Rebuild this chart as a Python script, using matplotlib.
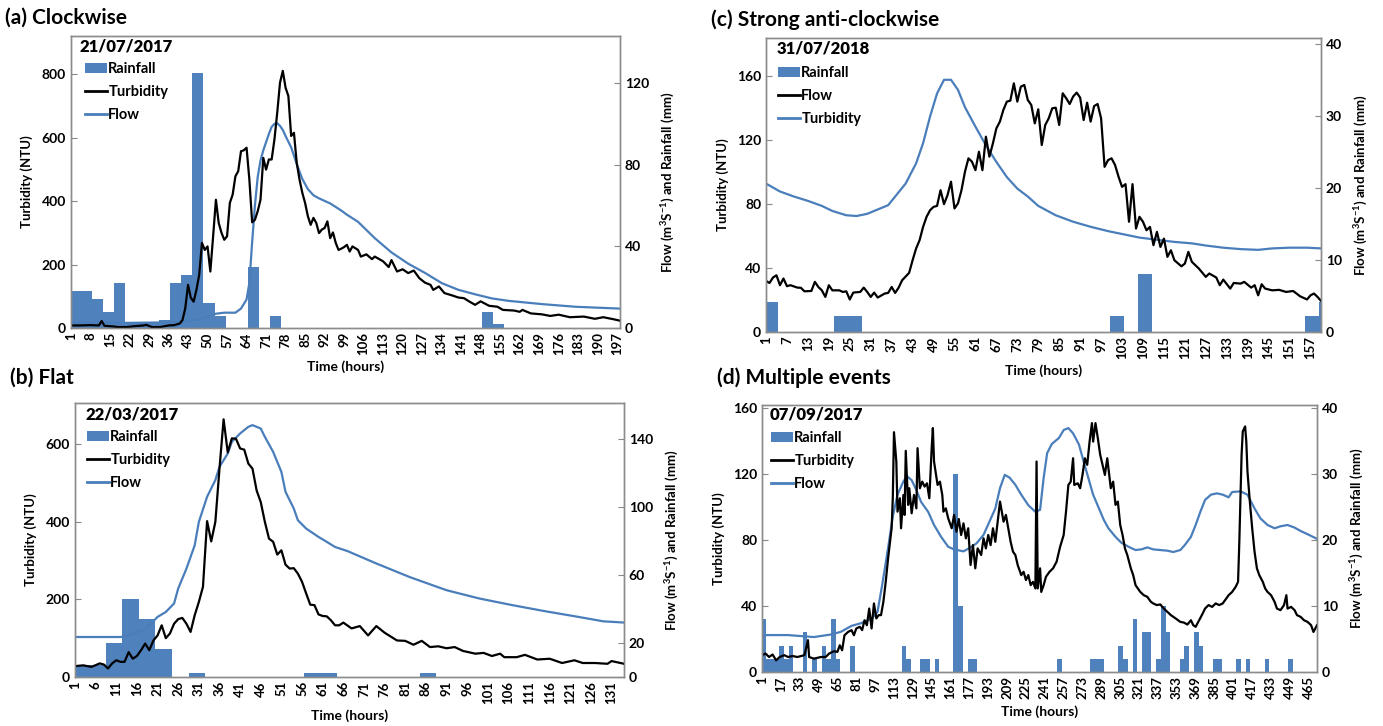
import matplotlib
matplotlib.use("Agg")
import matplotlib.pyplot as plt
from matplotlib.patches import Patch
from matplotlib.lines import Line2D

plt.rcParams['font.family'] = ['Lato', 'DejaVu Sans']
plt.rcParams['mathtext.default'] = 'regular'

BLUE = '#4a7ebb'
BAR = '#4f81bd'

# ---------------------------------------------------------------- (a) data
rain_a_first = [1, 9, 13, 17, 21, 33, 37, 41, 45, 49, 53, 65, 73, 149, 153]
rain_a_last = [8, 12, 16, 20, 32, 36, 40, 44, 48, 52, 56, 68, 76, 152, 156]
rain_a_mm = [18, 14.3, 8, 22, 2.6, 4, 22, 26, 125, 12, 6, 30, 6, 8, 2]

turb_a_hr = [1, 4, 8, 11, 12, 13, 16, 18, 21, 24, 27, 28, 30, 33, 36, 38, 40,
             41, 42, 43, 44, 45, 46, 47, 48, 49, 50, 51, 52, 53, 54, 55, 56, 57,
             58, 59, 60, 61, 62, 63, 64, 65, 66, 67, 68, 69, 70, 71, 72, 73, 74,
             75, 76, 77, 78, 79, 80, 81, 82, 83, 84, 85, 86, 87, 88, 89, 90, 91,
             92, 93, 94, 95, 96, 97, 98, 99, 100, 101, 102, 104, 105, 107, 109,
             110, 113, 115, 116, 118, 120, 122, 124, 126, 128, 130, 131, 133,
             135, 138, 140, 142, 144, 146, 148, 151, 154, 156, 160, 162, 163,
             166, 170, 173, 176, 180, 185, 189, 192, 196, 198]
turb_a_ntu = [8, 8, 9, 8, 22, 7, 5, 3, 3, 6, 8, 10, 3, 3, 8, 9, 14,
              25, 62, 136, 95, 83, 120, 167, 268, 246, 257, 178, 289, 404, 331,
              300, 278, 289, 394, 420, 478, 494, 557, 560, 568, 468, 333, 341,
              368, 404, 536, 499, 531, 531, 594, 678, 773, 810, 757, 731, 605,
              615, 520, 468, 426, 394, 352, 325, 347, 331, 299, 310, 315, 336,
              283, 301, 268, 246, 250, 255, 262, 241, 257, 246, 225, 232, 217,
              225, 210, 192, 214, 178, 185, 173, 181, 157, 143, 136, 120, 131,
              110, 102, 96, 94, 83, 73, 84, 70, 67, 57, 55, 51, 57, 46, 43, 38,
              42, 34, 36, 29, 34, 27, 23]

flow_a_hr = [1, 20, 40, 46, 50, 53, 56, 60, 62, 64, 65, 66, 67, 68, 69, 70, 71,
             72, 73, 74, 75, 76, 77, 78, 80, 82, 84, 86, 88, 90, 94, 98, 100,
             104, 110, 116, 122, 128, 134, 140, 146, 152, 158, 170, 182, 198]
flow_a_m3s = [2.5, 2.5, 2.8, 4, 5.5, 7, 7.5, 7.5, 9.5, 14, 22, 42, 60, 74, 82,
              87, 91, 95, 98.5, 100, 100.3, 99, 97, 94, 88.5, 80.3, 73, 68, 65,
              63.5, 61, 57.5, 55.5, 52, 44, 37, 31.5, 27, 22, 18.7, 16.5, 14.5,
              13.3, 11.7, 10.4, 9.5]

# ---------------------------------------------------------------- (b) data
rain_b_first = [1, 9, 13, 17, 21, 29, 57, 85]
rain_b_last = [8, 12, 16, 20, 24, 32, 64, 88]
rain_b_mm = [7, 20, 46, 34, 16.3, 2.6, 2.6, 2.6]

turb_b_hr = [1, 3, 5, 7, 8, 9, 10, 11, 12, 13, 14, 15, 16, 17, 18, 19, 20, 21,
             22, 23, 24, 25, 26, 27, 28, 29, 30, 31, 32, 33, 34, 35, 36, 37, 38,
             39, 40, 41, 42, 43, 44, 45, 46, 47, 48, 49, 50, 51, 52, 53, 54, 55,
             56, 57, 58, 59, 60, 61, 62, 63, 64, 65, 66, 68, 70, 72, 74, 76, 79,
             81, 83, 85, 87, 89, 91, 93, 95, 98, 100, 102, 104, 105, 108, 110,
             113, 116, 119, 122, 124, 127, 130, 131, 134]
turb_b_ntu = [28, 30, 26, 35, 32, 22, 35, 43, 39, 39, 64, 47, 54, 69, 86, 69,
              94, 107, 133, 100, 112, 137, 149, 152, 137, 116, 159, 193, 232,
              401, 349, 399, 536, 663, 578, 614, 613, 588, 585, 549, 536, 480,
              450, 399, 356, 348, 315, 326, 289, 279, 280, 266, 245, 215, 186,
              185, 161, 157, 156, 146, 133, 133, 140, 125, 131, 107, 131, 114,
              94, 93, 83, 93, 77, 79, 74, 77, 67, 60, 62, 54, 60, 51, 51, 57,
              45, 47, 36, 43, 36, 36, 34, 41, 34]

flow_b_hr = [1, 12, 13, 18, 21, 23, 25, 26, 28, 30, 31, 33, 35, 36, 38, 39, 41,
             43, 44, 46, 47, 49, 51, 52, 54, 55, 57, 60, 62, 64, 67, 74, 82, 91,
             99, 107, 115, 123, 129, 134]
flow_b_m3s = [23.5, 23.5, 23.8, 28, 35.3, 38.2, 43.2, 52, 63.7, 77.4, 91.1,
              105.9, 115.7, 123.5, 131.3, 138.2, 143.1, 147, 148, 146, 141.1,
              132.3, 120.5, 108.8, 99, 92.1, 87.2, 82.3, 79.4, 76.4, 74, 66.7,
              58.8, 51, 46.1, 42.2, 38.6, 35.3, 32.7, 32]

# ---------------------------------------------------------------- (c) data
rain_c_first = [1, 21, 100, 108, 156, 160]
rain_c_last = [4, 28, 103, 111, 159, 160]
rain_c_mm = [4.2, 2.2, 2.2, 8.1, 2.2, 4.2]

black_c_hr = [1, 2, 3, 4, 5, 6, 7, 8, 10, 11, 12, 14, 15, 16, 17, 18, 19, 20,
              22, 23, 24, 25, 26, 28, 29, 30, 31, 32, 33, 35, 36, 37, 38, 39, 40,
              42, 43, 44, 45, 46, 47, 48, 49, 50, 51, 52, 53, 54, 55, 56, 57, 58,
              59, 60, 61, 62, 63, 64, 65, 66, 67, 68, 69, 70, 71, 72, 73, 74, 75,
              76, 77, 78, 79, 80, 81, 82, 83, 84, 85, 86, 87, 88, 89, 90, 91, 92,
              93, 94, 95, 96, 97, 98, 99, 100, 101, 102, 103, 104, 105, 106, 107,
              108, 109, 110, 111, 112, 113, 114, 115, 116, 117, 118, 120, 121,
              122, 123, 125, 127, 128, 130, 131, 132, 134, 135, 137, 138, 140,
              141, 142, 143, 144, 146, 148, 150, 152, 153, 154, 156, 157, 158,
              159, 160]
black_c_ntu = [31.9, 30.6, 34, 35.4, 29.2, 33.4, 28.6, 29.2, 27.7, 27.6, 25.4,
               25.6, 31.3, 28.1, 26, 21.9, 29.2, 26, 26, 25, 25.4, 20.3, 24.6,
               25, 27.7, 25, 21.9, 24.6, 21.5, 24, 24.4, 28.1, 24.4, 27.7, 32.3,
               36.9, 44.8, 52.1, 57.3, 65.6, 71.9, 76, 78.1, 78.7, 88.5, 79.8,
               85.4, 93.8, 77.1, 80.3, 88.5, 100, 108.4, 106.3, 101, 112.5, 101,
               121.9, 109.4, 117.7, 127.1, 131.3, 138.6, 143.8, 144.4, 155.2,
               143.8, 153.1, 154.2, 144.8, 141.7, 130.2, 139, 116.7,
               129.2, 133.4, 139.6, 140, 129.2, 149, 145.9, 142.3, 147, 149.4,
               146.3, 132.3, 143.1, 131.3, 141, 142.3, 133.4, 103.1, 107.3,
               108.4, 104.2, 96.9, 90.6, 92.3, 68.8, 92.3, 64.6, 71.9, 68.8,
               63.5, 65.6, 54.2, 62.5, 53.1, 58.3, 46.9, 51, 44.8, 41, 42.7, 50,
               43.8, 39.6, 34.4, 36.5, 34, 29.2, 32.7, 27.1, 30.6, 30.2, 31.3,
               27.7, 29.2, 22.9, 29.8, 27.1, 26, 26.3, 25, 25.6, 24, 22.3, 20.3,
               22.9, 24, 21.9, 19.4]

blue_c_hr = [1, 5, 9, 13, 17, 20, 24, 27, 30, 33, 36, 38, 41, 44, 46, 48, 50,
             52, 54, 56, 58, 61, 64, 67, 70, 73, 76, 79, 84, 89, 94, 99, 103,
             108, 113, 118, 123, 127, 132, 137, 142, 146, 151, 156, 160]
blue_c_m3s = [20.6, 19.5, 18.8, 18.2, 17.5, 16.8, 16.2, 16.1, 16.4, 17, 17.6,
              18.8, 20.6, 23.4, 26.2, 29.9, 33.1, 35, 35, 33.6, 31.2, 28.5,
              25.9, 23.6, 21.5, 19.9, 18.8, 17.5, 16.2, 15.3, 14.6, 14, 13.6,
              13.1, 12.8, 12.5, 12.3, 12, 11.7, 11.5, 11.4, 11.6, 11.7, 11.7,
              11.6]

# ---------------------------------------------------------------- (d) data
rain_d_first = [1, 5, 16, 20, 24, 36, 44, 52, 56, 60, 64, 76, 120, 124, 136,
                148, 164, 168, 176, 252, 280, 304, 308, 316, 324, 336, 340, 344,
                356, 360, 368, 372, 384, 404, 412, 428, 448]
rain_d_last = [4, 15, 19, 23, 27, 39, 47, 55, 59, 63, 67, 79, 123, 127, 143,
               151, 167, 171, 183, 255, 291, 307, 311, 319, 331, 339, 343, 347,
               359, 363, 371, 375, 391, 407, 415, 431, 451]
rain_d_mm = [8, 2, 4, 2, 4, 6, 2, 4, 2, 8, 2, 4, 4, 2, 2, 2, 30, 10, 2, 2, 2,
             4, 2, 8, 6, 2, 10, 6, 2, 4, 6, 4, 2, 2, 2, 2, 2]

turb_d_hr = [1, 4, 7, 10, 13, 16, 20, 23, 27, 31, 37, 40, 41, 45, 51, 55, 58,
             62, 65, 67, 69, 71, 74, 77, 79, 81, 84, 86, 88, 90, 92, 94, 96, 98,
             100, 102, 104, 106, 108, 111, 112, 113, 115, 116, 118, 119, 121,
             122, 123, 125, 126, 128, 130, 132, 133, 135, 137, 139, 141, 143,
             145, 146, 147, 150, 152, 154, 155, 157, 159, 162, 164, 166, 168,
             170, 172, 174, 176, 178, 180, 182, 184, 187, 189, 191, 193, 195,
             197, 199, 201, 203, 206, 208, 210, 212, 214, 216, 218, 221, 223,
             225, 227, 229, 231, 233, 234, 235, 237, 238, 240, 242, 245, 248,
             251, 254, 257, 259, 261, 263, 265, 266, 269, 271, 273, 275, 277,
             279, 281, 282, 284, 286, 288, 290, 292, 294, 297, 299, 301, 303,
             305, 307, 309, 311, 314, 316, 318, 320, 322, 325, 328, 331, 333,
             336, 339, 342, 345, 348, 350, 353, 356, 359, 362, 365, 367, 369,
             372, 375, 377, 380, 383, 386, 389, 392, 394, 397, 400, 403, 405,
             406, 408, 409, 411, 412, 413, 415, 417, 419, 421, 423, 426, 428,
             430, 433, 436, 438, 441, 444, 446, 447, 450, 453, 455, 458, 461,
             464, 467, 469, 472]
turb_d_ntu = [10.2, 11.2, 9.1, 10.6, 7.1, 9.1, 10.2, 9.1, 9.7, 9.1, 10.2, 19.3,
              9.1, 8.1, 9.1, 9.1, 11.2, 12.6, 12.2, 16.2, 13.2, 22.3, 24.3, 25.4,
              22.3, 26.4, 27.4, 25.4, 31.4, 28.4, 38.5, 26.4, 41.6, 32.5, 34.5,
              34.5, 42.6, 54.7, 68.9, 87.2, 105.4, 145.5, 127.7, 97.3, 105.4,
              87.2, 107.4, 95.3, 134.2, 101.4, 111.5, 96.3, 107.4, 99.3, 135.8,
              111.5, 115.5, 112.5, 114.5, 105.4, 135.8, 148, 127.7, 113.5,
              115.5, 107.4, 97.3, 99.3, 93.3, 87.2, 95.3, 85.1, 92.8, 83.1,
              90.2, 81.1, 87.2, 64.9, 77, 62.9, 75, 71, 81.1, 75, 83.1, 77, 87.2,
              79, 91.2, 103.4, 91.2, 95.3, 87.2, 79, 73, 71, 64.9, 58.8, 60.8,
              55.8, 58.8, 52.7, 54.7, 50.7, 127.7, 50.7, 62.9, 48.6, 52.7, 57.8,
              60.8, 62.9, 66.9, 76, 83.1, 97.3, 113.5, 115.5, 129.7, 113.5,
              114.5, 111.5, 119.6, 129.7, 125.7, 139.8, 151, 139.8, 151, 141.9,
              131.8, 125.7, 119.6, 129.7, 111.5, 115.5, 101.4, 103.4, 89.2, 83.1,
              75, 71, 62.9, 58.8, 52.7, 50.7, 48.6, 46.6, 45.6, 42.6, 41.6, 40.6,
              41, 38.5, 36.5, 34.5, 33.5, 32, 30.4, 30, 28.8, 31.4, 28.4, 27.4,
              31.4, 35.5, 38.5, 40.6, 39.5, 41.6, 40.6, 41.6, 43.6, 46.6, 48.6,
              51.7, 54.7, 77, 131.8, 145.9, 149, 139.8, 121.6, 103.4, 87.2, 73,
              62.9, 58.8, 54.7, 50.7, 48.6, 46.6, 42.6, 38.5, 37.5, 40.6, 46.6,
              38.5, 39.5, 37.5, 34.5, 33.5, 31.4, 30.4, 28.4, 24.3, 28.4]

flow_d_hr = [1, 23, 45, 60, 68, 77, 85, 94, 99, 103, 108, 112, 116, 121, 124,
             128, 132, 136, 142, 147, 153, 159, 164, 172, 177, 183, 189, 194,
             199, 203, 207, 211, 216, 221, 227, 233, 237, 240, 243, 247, 253,
             257, 261, 265, 270, 274, 278, 282, 287, 291, 295, 301, 306, 312,
             318, 323, 328, 333, 339, 345, 350, 356, 360, 365, 369, 373, 377,
             382, 387, 392, 397, 400, 407, 413, 419, 424, 430, 436, 441, 447,
             453, 458, 464, 472]
flow_d_m3s = [5.6, 5.6, 5.3, 5.7, 6.1, 7, 7.4, 8.1, 9.1, 13.2, 18.8, 23.6,
              26.9, 28.9, 29.7, 29.1, 27.6, 25.8, 24.3, 22.3, 20.5, 19, 18.6,
              18.3, 18.8, 19.5, 20.8, 22.8, 24.8, 27.9, 29.9, 29.5, 28.4, 26.9,
              25.3, 24.3, 24.6, 29.4, 33.2, 34.6, 35.5, 36.7, 37, 36.2, 34.5,
              31.9, 29.4, 26.9, 24.8, 23.1, 21.8, 20.5, 19.6, 19, 18.5, 18.6,
              18.9, 18.6, 18.5, 18.4, 18.2, 18.5, 19.3, 20.5, 22.3, 24.3, 26.1,
              26.9, 27.1, 26.9, 26.5, 27.3, 27.4, 26.9, 24.8, 23.3, 22.3, 21.8,
              22.1, 22.3, 21.9, 21.4, 20.9, 20.2]

RIGHT_LABEL = r'Flow (m$^{3}$S$^{-1}$) and Rainfall (mm)'

W, H = 1383, 726
fig = plt.figure(figsize=(W / 100, H / 100), dpi=100)


def px(x0, y0, x1, y1):
    # pixel box -> figure fraction rect
    return [x0 / W, 1 - y1 / H, (x1 - x0) / W, (y1 - y0) / H]


def panel(box, title, tpos, date, dpos, lpos,
          rain, black, blue, labels,
          xmax, xstep, ylim, yticks, rlim, rticks):
    ax = fig.add_axes(px(*box))
    ax2 = ax.twinx()
    ax.set_zorder(ax2.get_zorder() + 1)
    ax.patch.set_visible(False)

    first, last, mm = rain
    for a, b, v in zip(first, last, mm):
        ax2.bar(a - 0.5, v, width=b - a + 1, align='edge', color=BAR,
                linewidth=0)
    ax2.plot(blue[0], blue[1], color=BLUE, lw=1.6)
    ax.plot(black[0], black[1], color='k', lw=1.6)

    ax.set_xlim(1, xmax)
    ax.set_ylim(*ylim)
    ax2.set_ylim(*rlim)
    ax.set_yticks(yticks)
    ax2.set_yticks(rticks)
    ax.set_xticks(list(range(1, xmax + 1, xstep)))
    ax.tick_params(axis='x', labelrotation=90, length=0, pad=3,
                   labelsize=9.5)
    ax.tick_params(axis='y', direction='in', length=4, labelsize=10,
                   color='#888888')
    ax2.tick_params(axis='y', direction='in', length=4, labelsize=10,
                    color='#888888')
    for lab in ax.get_xticklabels() + ax.get_yticklabels() + ax2.get_yticklabels():
        lab.set_fontweight('bold')
    for a_ in (ax, ax2):
        for s in a_.spines.values():
            s.set_color('#8c8c8c')
            s.set_linewidth(1.0)

    ax.set_xlabel('Time (hours)', fontsize=10, fontweight='bold', labelpad=4)
    ax.set_ylabel('Turbidity (NTU)', fontsize=9.5, fontweight='bold',
                  labelpad=6)
    ax2.set_ylabel(RIGHT_LABEL, fontsize=9.5, fontweight='bold', labelpad=8)

    fig.text(tpos[0] / W, 1 - tpos[1] / H, title, fontsize=15,
             fontweight='bold', va='center', ha='left')
    fig.text(dpos[0] / W, 1 - dpos[1] / H, date, fontsize=12,
             fontweight='heavy', va='center', ha='left')

    handles = [Patch(facecolor=BAR, edgecolor='none'),
               Line2D([], [], color=labels[1][1], lw=2),
               Line2D([], [], color=labels[2][1], lw=2)]
    ax.legend(handles, [l[0] for l in labels], loc='upper left',
              bbox_to_anchor=(lpos[0] / W, 1 - lpos[1] / H),
              bbox_transform=fig.transFigure, frameon=False,
              handlelength=1.5, handletextpad=0.1, labelspacing=0.62,
              borderpad=0, borderaxespad=0,
              prop={'weight': 'bold', 'size': 10.5})
    return ax, ax2


panel((71, 36, 620, 328), '(a) Clockwise', (5, 18), '21/07/2017', (80, 47),
      (85, 62), (rain_a_first, rain_a_last, rain_a_mm),
      (turb_a_hr, turb_a_ntu), (flow_a_hr, flow_a_m3s),
      [('Rainfall', BAR), ('Turbidity', 'k'), ('Flow', BLUE)],
      198, 7, (0, 920), [0, 200, 400, 600, 800], (0, 143), [0, 40, 80, 120])

panel((75, 403, 624, 677), '(b) Flat', (10, 378), '22/03/2017', (86, 414),
      (87, 430), (rain_b_first, rain_b_last, rain_b_mm),
      (turb_b_hr, turb_b_ntu), (flow_b_hr, flow_b_m3s),
      [('Rainfall', BAR), ('Turbidity', 'k'), ('Flow', BLUE)],
      134, 5, (0, 705), [0, 200, 400, 600], (0, 161), [0, 20, 60, 100, 140])

panel((766, 38, 1321, 332), '(c) Strong anti-clockwise', (711, 20),
      '31/07/2018', (777, 49), (778, 66),
      (rain_c_first, rain_c_last, rain_c_mm),
      (black_c_hr, black_c_ntu), (blue_c_hr, blue_c_m3s),
      [('Rainfall', BAR), ('Flow', 'k'), ('Turbidity', BLUE)],
      160, 6, (0, 183.5), [0, 40, 80, 120, 160], (0, 40.8),
      [0, 10, 20, 30, 40])

panel((762, 405, 1317, 672), '(d) Multiple events', (717, 378),
      '07/09/2017', (770, 414), (771, 431),
      (rain_d_first, rain_d_last, rain_d_mm),
      (turb_d_hr, turb_d_ntu), (flow_d_hr, flow_d_m3s),
      [('Rainfall', BAR), ('Turbidity', 'k'), ('Flow', BLUE)],
      472, 16, (0, 162), [0, 40, 80, 120, 160], (0, 40.5),
      [0, 10, 20, 30, 40])

fig.savefig('out.png', dpi=100)
